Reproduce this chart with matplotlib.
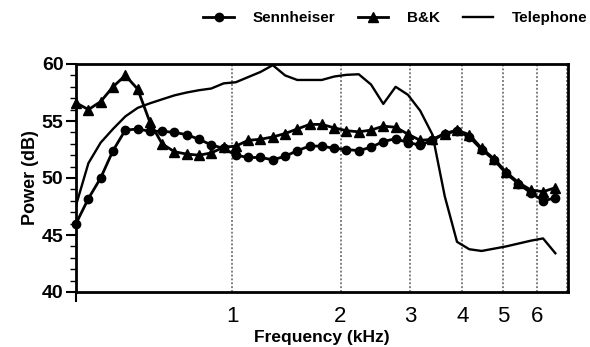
import numpy as np
import matplotlib.pyplot as plt
from matplotlib.ticker import FixedLocator, MultipleLocator

# frequencies of the measurement points (kHz)
freq_khz = [0.243, 0.284, 0.327, 0.373, 0.422, 0.474, 0.529, 0.587, 0.650, 0.716,
            0.786, 0.861, 0.941, 1.025, 1.115, 1.211, 1.313, 1.421, 1.535, 1.658,
            1.787, 1.925, 2.072, 2.228, 2.394, 2.570, 2.758, 2.957, 3.169, 3.394,
            3.633, 3.887, 4.158, 4.446, 4.751, 5.076, 5.422, 5.789, 6.180, 6.595]

sennheiser = [46.0, 48.2, 50.0, 52.4, 54.2, 54.3, 54.1, 54.1, 54.0, 53.8,
              53.4, 52.9, 52.6, 52.0, 51.8, 51.8, 51.6, 51.9, 52.4, 52.8,
              52.8, 52.6, 52.5, 52.4, 52.7, 53.2, 53.45, 53.1, 52.9, 53.3,
              53.9, 54.1, 53.6, 52.5, 51.6, 50.4, 49.5, 48.7, 48.0, 48.25]

bk = [56.6, 56.0, 56.7, 58.0, 59.0, 57.8, 54.9, 53.0, 52.3, 52.1,
      52.0, 52.2, 52.7, 52.8, 53.3, 53.4, 53.6, 53.9, 54.3, 54.7,
      54.7, 54.4, 54.15, 54.05, 54.2, 54.55, 54.45, 53.85, 53.3, 53.4,
      53.9, 54.2, 53.8, 52.6, 51.7, 50.5, 49.6, 48.95, 48.8, 49.15]

telephone = [47.6, 51.3, 53.1, 54.3, 55.4, 56.15, 56.55, 56.9, 57.25, 57.5,
             57.7, 57.85, 58.3, 58.4, 58.85, 59.3, 59.9, 59.0, 58.6, 58.6,
             58.6, 58.9, 59.05, 59.1, 58.2, 56.5, 58.0, 57.3, 55.9, 53.8,
             48.4, 44.4, 43.75, 43.6, 43.8, 44.0, 44.25, 44.5, 44.7, 43.4]

tick_khz = [1, 2, 3, 4, 5, 6]
grid_khz = [1, 2, 3, 4, 5, 6, 7]


def fwd(f):
    f = np.asarray(f, dtype=float)
    return np.log10(np.maximum(f + 0.4, 1e-6))


def inv(y):
    return 10 ** np.asarray(y, dtype=float) - 0.4


plt.rcParams['font.family'] = ['Liberation Sans', 'DejaVu Sans']

fig = plt.figure(figsize=(5.9, 3.47), dpi=100)
ax = fig.add_axes([76 / 590, 1 - 292 / 347, (568 - 76) / 590, (292 - 64) / 347])
ax.set_xscale('function', functions=(fwd, inv))

for g in grid_khz:
    ax.axvline(g, color='0.5', lw=1.4, ls=(0, (1, 1)), zorder=1)

ax.plot(freq_khz, sennheiser, '-o', color='black', lw=2, ms=6, label='Sennheiser',
        clip_on=False, zorder=3)
ax.plot(freq_khz, bk, '-^', color='black', lw=2, ms=6.5, label='B&K',
        clip_on=False, zorder=3)
ax.plot(freq_khz, telephone, '-', color='black', lw=1.7, label='Telephone', zorder=2)

ax.set_xlim(0.243, 7.05)
ax.set_ylim(40, 60)

ax.xaxis.set_major_locator(FixedLocator(tick_khz))
ax.set_xticklabels([str(t) for t in tick_khz])
ax.xaxis.set_minor_locator(FixedLocator([0.243]))
ax.tick_params(axis='x', which='major', length=0, labelsize=16, pad=10)
ax.tick_params(axis='x', which='minor', length=7, width=1.5, direction='out')

ax.yaxis.set_major_locator(MultipleLocator(5))
ax.yaxis.set_minor_locator(MultipleLocator(1))
ax.tick_params(axis='y', which='major', length=7, width=1.5, direction='out',
               labelsize=14, pad=2)
ax.tick_params(axis='y', which='minor', length=4, width=1, direction='out')
for lab in ax.get_yticklabels():
    lab.set_fontweight('bold')

for sp in ax.spines.values():
    sp.set_linewidth(2)

ax.set_xlabel('Frequency (kHz)', fontsize=12.5, fontweight='bold', labelpad=2)
ax.set_ylabel('Power (dB)', fontsize=13, fontweight='bold', labelpad=2)

fig.legend(loc='center', bbox_to_anchor=(0.67, 0.948), ncol=3, frameon=False,
           prop={'weight': 'bold', 'size': 11}, handlelength=2.0,
           columnspacing=1.5, handletextpad=1.2)

fig.savefig('out.png', dpi=100)
